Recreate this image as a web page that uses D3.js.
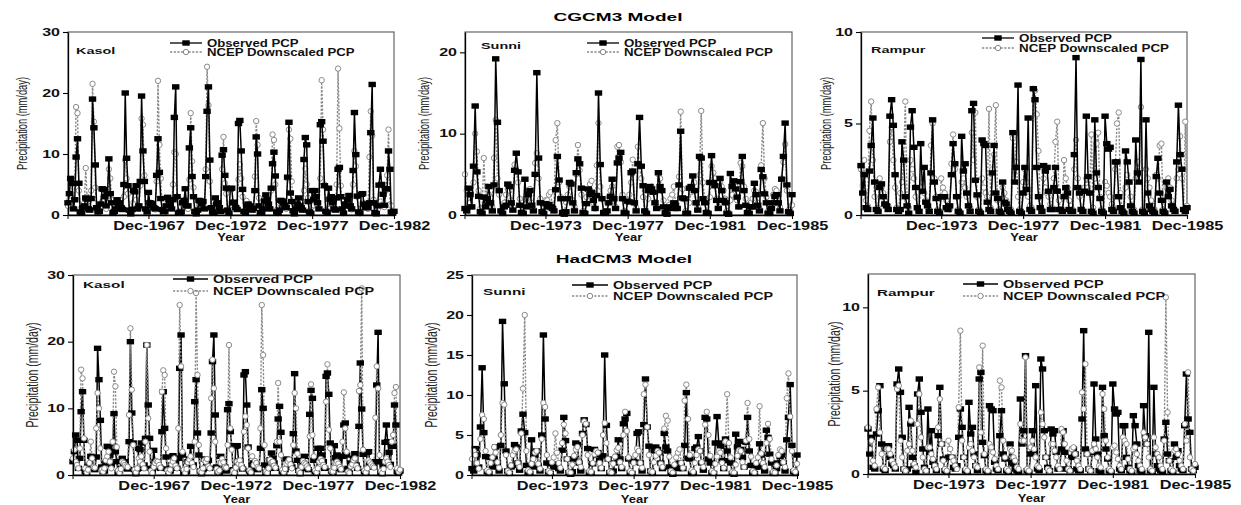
<!DOCTYPE html>
<html><head><meta charset="utf-8">
<script src="https://cdn.jsdelivr.net/npm/d3@7"></script>
<style>body{margin:0;background:#fff}svg{display:block}</style>
</head><body>
<svg id="c" width="1241" height="505"></svg>
<script>
// ---------------- DATA (monthly precipitation, mm/day; one row per year Jan..Dec) ----------------
const kasolStartYear = 1963;   // 1963-1982
const rampurSunniStartYear = 1970; // 1970-1985

const kasolObs = [
 [2.0,3.5,6.0,5.2,1.0,2.5,9.5,12.5,5.2,0.5,0.3,1.2],
 [1.5,2.8,2.6,1.0,0.8,2.7,19.0,14.3,8.2,1.2,0.5,0.6],
 [1.8,4.3,4.2,3.0,1.5,3.5,9.2,3.5,2.0,0.4,0.6,1.0],
 [2.5,1.8,2.0,1.2,0.9,5.0,20.0,9.3,4.8,0.8,0.2,0.9],
 [4.0,3.8,4.8,1.0,1.5,5.5,19.5,10.5,5.5,1.0,0.5,3.7],
 [2.0,1.9,1.5,1.2,1.0,6.5,12.5,7.0,2.7,0.9,0.5,0.6],
 [1.5,2.9,2.5,1.8,1.0,2.5,16.0,21.0,3.0,0.3,0.4,0.5],
 [2.0,2.4,4.3,1.5,1.5,11.0,14.3,6.3,3.0,0.6,0.2,0.8],
 [2.4,2.3,1.8,2.2,1.0,6.3,17.0,21.0,9.0,1.2,0.5,0.3],
 [2.8,1.8,2.0,1.2,0.6,9.8,10.7,6.5,4.4,0.8,0.3,4.3],
 [4.4,2.0,2.1,1.2,0.9,15.0,15.5,10.5,4.2,0.6,0.4,1.5],
 [1.8,1.5,1.2,0.8,1.1,4.0,12.8,10.0,1.5,0.4,0.3,1.0],
 [2.3,3.3,2.5,1.8,1.0,4.4,8.4,10.3,6.4,0.5,0.3,0.8],
 [2.4,2.3,2.0,1.6,1.2,6.2,15.2,3.6,2.2,0.7,0.2,1.0],
 [1.8,2.8,1.5,1.2,0.8,9.1,12.7,11.5,2.2,0.5,0.3,4.0],
 [2.5,4.0,3.0,2.0,1.0,14.8,15.3,12.1,4.8,0.6,0.4,4.4],
 [2.6,3.0,2.0,1.0,0.8,2.8,7.5,7.8,3.0,1.0,0.3,1.8],
 [1.5,2.5,3.2,1.5,1.0,7.3,16.8,9.9,3.1,0.5,0.3,3.4],
 [3.5,1.8,1.2,1.5,1.2,2.0,13.5,21.4,2.0,0.4,0.2,1.5],
 [4.9,7.5,5.0,3.4,1.6,4.3,4.3,10.5,7.5,0.5,0.3,0.6]
].flat();

const kasolCGCM3 = [
 [1.5,2.5,3.2,2.0,1.2,5.0,17.7,16.7,4.0,1.0,1.0,1.4],
 [2.0,7.7,3.0,1.5,1.0,4.0,21.5,15.3,4.5,0.8,0.5,0.9],
 [1.5,2.2,3.0,2.5,1.0,2.0,7.5,6.0,2.5,0.5,0.4,0.8],
 [1.8,2.0,1.5,1.0,1.2,3.0,9.0,6.0,3.5,0.6,0.3,1.0],
 [2.0,1.8,2.5,1.5,1.0,4.8,15.8,14.8,6.5,0.8,0.4,1.0],
 [1.5,2.0,1.8,1.0,0.9,5.5,22.0,11.5,6.0,0.8,0.3,0.7],
 [1.2,2.0,2.5,1.5,1.1,5.0,10.3,10.0,3.0,0.6,0.4,0.6],
 [1.6,1.8,2.4,1.2,1.0,5.8,16.7,8.8,4.5,0.5,0.3,0.9],
 [1.7,2.2,2.0,1.4,1.2,7.5,24.3,18.0,5.5,1.0,0.4,0.6],
 [1.8,1.5,2.0,1.0,0.8,7.5,12.8,5.2,3.5,0.7,0.3,1.2],
 [2.1,1.6,1.8,1.5,1.0,5.8,8.3,6.0,3.0,0.6,0.4,2.3],
 [1.5,1.8,1.4,1.0,1.0,6.3,15.4,11.5,2.8,0.5,0.4,0.8],
 [1.8,2.0,2.2,1.3,1.0,4.0,13.2,12.3,5.0,0.8,0.3,0.7],
 [1.7,2.1,1.9,1.5,1.0,6.0,14.0,12.5,5.5,0.5,0.4,1.2],
 [2.0,1.8,1.5,1.1,0.9,4.0,7.6,5.0,2.8,0.7,0.3,1.4],
 [1.6,2.3,2.2,1.5,1.1,6.0,22.1,14.0,5.0,0.8,0.4,1.0],
 [1.8,2.0,1.6,1.2,1.0,5.0,24.0,14.2,4.8,0.6,0.3,3.0],
 [1.5,1.9,2.4,1.1,0.9,5.0,10.5,8.0,3.0,0.5,0.3,1.1],
 [2.0,1.6,1.4,1.2,1.0,9.5,17.0,13.0,2.5,0.5,0.4,0.9],
 [1.9,2.2,1.7,1.4,1.3,4.0,6.5,14.0,1.7,1.5,0.6,0.5]
].flat();

const kasolHadCM3 = [
 [2.5,3.8,2.0,1.5,1.0,4.0,15.8,14.5,5.5,1.0,0.4,0.8],
 [1.8,5.0,2.5,1.2,1.1,7.0,12.3,10.0,4.0,0.8,0.5,1.0],
 [2.2,2.8,3.5,2.0,1.0,5.0,15.5,13.3,4.2,0.7,0.3,0.9],
 [2.0,1.8,1.5,1.3,1.2,9.0,22.0,12.8,4.5,0.8,0.4,1.0],
 [2.5,2.0,2.8,1.6,1.0,5.0,19.5,8.5,3.5,0.6,0.3,1.2],
 [1.8,2.1,2.0,1.5,1.1,12.5,15.7,15.0,4.0,0.7,0.4,0.8],
 [1.6,2.0,2.5,1.4,1.0,7.0,25.5,16.3,3.5,0.8,0.3,0.9],
 [1.9,2.3,2.8,1.8,1.2,5.0,27.3,15.0,4.5,0.6,0.4,1.0],
 [2.2,2.0,2.4,1.3,1.0,11.5,17.3,13.0,5.0,0.9,0.5,0.7],
 [1.8,2.4,1.9,1.2,1.1,4.5,19.5,7.0,3.8,0.6,0.3,1.1],
 [2.0,1.7,2.2,1.5,1.0,6.5,8.8,7.5,4.0,0.7,0.4,2.8],
 [1.5,2.1,1.8,1.2,1.0,7.0,25.5,18.0,4.5,0.5,0.3,1.0],
 [2.3,1.9,2.0,1.4,1.1,5.0,13.8,5.0,3.0,0.8,0.4,0.9],
 [1.7,2.0,2.3,1.6,1.0,4.5,12.3,10.0,3.2,0.6,0.3,1.2],
 [2.1,1.8,1.6,1.3,1.0,5.8,13.6,6.0,2.8,0.7,0.4,1.0],
 [2.0,2.4,2.1,1.5,1.2,11.0,16.6,6.8,4.0,0.6,0.5,1.1],
 [1.8,2.0,1.7,1.2,0.9,5.0,12.4,7.0,3.5,0.5,0.3,1.3],
 [1.6,2.2,2.5,1.4,1.0,12.6,13.5,28.0,3.8,0.7,0.4,1.0],
 [2.2,1.9,1.6,1.3,1.1,8.6,16.3,13.0,3.0,0.6,0.3,0.9],
 [2.0,2.5,2.0,1.5,1.2,5.0,6.0,12.3,13.2,1.0,0.5,0.8]
].flat();

const sunniObs = [
 [0.8,0.5,3.3,2.5,1.0,6.0,13.4,5.3,2.3,0.4,0.2,2.2],
 [1.0,2.0,3.5,1.5,0.5,3.7,19.2,11.4,3.0,0.5,0.2,1.0],
 [1.2,3.8,3.5,1.5,0.6,5.5,7.6,5.3,1.2,0.3,0.2,4.4],
 [1.0,2.5,3.0,1.2,0.5,5.0,17.5,7.0,1.5,0.4,0.2,1.4],
 [1.0,1.3,1.0,0.8,0.5,3.1,7.2,4.3,2.0,0.3,0.1,0.4],
 [2.0,4.0,3.8,1.5,0.5,5.2,6.9,6.3,3.3,0.3,0.2,1.4],
 [3.2,2.5,2.8,1.8,0.8,2.4,15.0,6.2,2.0,0.3,0.2,0.5],
 [1.5,2.3,4.4,2.0,0.8,6.4,7.0,7.7,2.0,0.3,0.2,1.7],
 [1.6,5.2,5.4,1.5,0.5,6.3,12.0,6.0,3.6,0.5,0.2,3.0],
 [3.5,3.2,2.8,1.5,0.8,5.2,3.5,3.0,1.0,0.3,0.1,0.9],
 [1.0,0.8,1.5,1.2,0.8,3.7,10.3,2.1,2.0,0.2,0.2,3.3],
 [3.5,4.8,3.0,1.5,0.6,7.2,7.0,2.0,1.5,0.3,0.2,4.0],
 [7.3,4.0,3.6,1.8,0.8,4.5,3.0,1.8,1.5,0.2,0.1,5.1],
 [3.5,4.2,3.2,2.2,1.0,4.1,7.2,3.0,1.2,0.3,0.2,1.0],
 [1.0,3.9,2.5,1.2,0.5,5.6,4.7,2.6,1.5,0.2,0.2,0.8],
 [1.5,2.3,2.5,1.5,0.5,4.4,7.2,11.3,3.7,0.4,0.2,2.5]
].flat();

const sunniCGCM3 = [
 [5.0,3.0,2.8,1.5,1.0,4.0,10.0,7.8,3.0,0.8,0.5,7.0],
 [2.0,3.5,2.5,1.5,1.0,7.0,11.7,4.5,2.5,0.5,0.4,1.5],
 [2.5,3.2,3.0,1.8,1.0,6.2,5.5,4.0,2.0,0.4,0.3,2.0],
 [2.0,2.8,3.2,1.5,0.8,6.4,7.6,4.5,2.0,0.5,0.3,1.8],
 [1.8,2.5,2.8,1.2,0.9,9.2,11.3,4.0,2.2,0.4,0.3,1.6],
 [2.5,3.5,4.0,1.8,1.0,5.0,8.6,5.5,2.5,0.5,0.3,2.2],
 [3.0,3.8,4.2,1.5,0.8,6.1,11.3,3.5,2.0,0.4,0.3,1.5],
 [2.2,3.0,3.5,1.7,1.0,8.4,8.6,6.5,2.5,0.5,0.4,1.8],
 [2.5,4.0,6.8,1.5,0.9,8.4,6.0,4.5,2.2,0.5,0.3,2.0],
 [3.0,3.5,2.8,1.6,1.0,5.0,4.5,3.0,1.8,0.4,0.3,1.2],
 [2.0,2.5,3.5,1.4,0.8,4.7,12.7,3.2,2.0,0.5,0.3,1.5],
 [2.8,3.2,4.0,1.5,1.0,4.9,12.8,4.0,2.0,0.4,0.3,2.2],
 [6.0,5.2,4.5,2.0,1.0,4.0,3.5,3.0,2.0,0.5,0.3,1.8],
 [2.5,3.8,3.5,1.8,1.0,6.4,6.0,3.5,2.0,0.4,0.3,1.5],
 [2.0,3.0,2.8,1.5,0.8,6.1,11.3,4.5,2.2,0.5,0.3,1.4],
 [2.5,3.2,3.0,1.7,1.0,4.5,6.5,8.7,3.0,0.6,0.3,1.2]
].flat();

const sunniHadCM3 = [
 [2.0,3.0,2.5,1.5,0.8,4.5,7.5,7.0,3.0,0.6,0.4,1.5],
 [2.2,3.5,2.8,1.6,0.9,5.0,9.0,8.8,2.5,0.5,0.3,1.2],
 [2.5,3.0,3.2,1.5,1.0,5.2,10.8,20.0,3.0,0.6,0.4,1.4],
 [2.0,2.8,3.0,1.4,0.8,4.5,9.0,8.5,2.5,0.5,0.3,1.6],
 [2.2,5.2,2.8,1.5,0.9,4.0,6.3,5.2,2.0,0.4,0.3,1.3],
 [2.4,3.2,3.5,1.6,1.0,5.0,6.7,6.4,2.5,0.5,0.4,1.5],
 [2.6,3.0,2.8,1.5,0.9,5.0,6.5,4.0,2.0,0.4,0.3,1.4],
 [2.3,3.1,3.4,1.6,1.0,5.0,7.9,5.5,2.2,0.5,0.3,1.5],
 [2.5,3.3,3.0,1.5,0.9,10.1,11.3,6.0,2.5,0.5,0.4,1.6],
 [2.4,3.0,2.8,1.4,1.0,5.8,7.4,6.8,2.3,0.5,0.3,1.3],
 [2.2,2.8,3.2,1.5,0.9,9.3,11.3,7.0,2.5,0.6,0.4,1.5],
 [2.5,3.2,3.0,1.6,1.0,6.3,7.9,5.0,2.4,0.5,0.3,1.4],
 [2.3,3.0,2.8,1.5,0.9,4.2,10.1,4.0,2.2,0.4,0.3,1.3],
 [2.4,3.1,3.0,1.6,1.0,4.3,9.0,4.5,2.3,0.5,0.3,1.5],
 [2.2,8.6,2.7,1.5,1.0,4.0,6.4,4.5,2.0,0.4,0.3,1.2],
 [2.5,3.2,3.0,1.6,1.0,9.6,12.7,7.3,3.0,0.6,0.4,1.4]
].flat();

const rampurObs = [
 [2.7,1.2,2.2,0.4,0.3,2.4,3.8,5.3,1.8,0.3,0.2,1.5],
 [1.7,1.0,0.6,0.5,0.3,5.4,6.3,4.9,2.2,0.3,0.2,0.3],
 [4.0,3.0,1.0,0.5,0.1,4.8,5.7,3.7,1.5,0.4,0.2,3.9],
 [1.3,2.6,0.7,0.5,0.2,2.3,5.2,1.8,0.9,0.2,0.1,1.0],
 [1.0,1.0,0.4,0.3,0.5,2.2,3.9,2.8,1.0,0.2,0.1,4.3],
 [2.4,2.8,1.2,0.5,0.2,5.7,6.1,1.9,1.1,0.2,0.1,4.1],
 [3.9,3.8,0.7,0.3,0.2,2.3,3.8,1.2,0.9,0.2,0.1,1.8],
 [0.7,0.6,0.3,0.2,0.1,4.5,1.8,2.6,7.1,0.2,0.1,1.2],
 [2.6,1.4,5.3,0.3,0.2,6.9,6.3,2.6,1.0,0.4,0.2,2.7],
 [2.4,2.6,1.3,0.3,0.3,1.5,2.6,1.3,0.3,0.3,0.2,1.0],
 [1.5,1.2,0.3,0.2,0.2,3.3,8.6,1.5,1.2,0.3,0.2,1.3],
 [5.4,2.1,1.2,0.2,0.1,5.2,2.3,1.5,0.9,0.2,0.1,5.4],
 [3.9,3.6,3.7,0.3,0.2,2.9,2.9,1.0,0.4,0.2,0.1,3.5],
 [2.9,1.8,0.5,0.2,0.1,4.1,2.3,1.8,8.5,0.2,0.1,5.2],
 [1.2,0.5,0.3,0.2,0.1,2.1,3.1,1.2,0.8,0.2,0.1,1.8],
 [1.0,1.4,0.5,0.3,0.2,2.9,6.0,3.3,2.5,0.3,0.2,0.4]
].flat();

const rampurCGCM3 = [
 [2.5,1.6,3.0,0.8,0.5,4.6,6.2,3.0,1.0,0.3,0.4,2.0],
 [1.5,1.2,0.8,0.6,0.5,4.0,4.8,3.0,1.5,0.4,0.3,1.2],
 [1.8,2.9,6.2,0.8,0.4,3.0,2.5,2.0,1.0,0.3,0.2,1.5],
 [1.8,1.2,0.8,0.5,0.3,3.8,5.0,2.0,1.0,0.3,0.2,2.0],
 [1.5,1.2,0.8,0.5,0.3,2.8,4.4,2.5,1.0,0.3,0.2,1.8],
 [2.0,1.5,1.0,0.5,0.4,4.5,3.0,5.6,1.0,0.3,0.2,2.0],
 [1.5,1.2,1.0,5.8,0.4,2.5,3.3,6.0,0.8,0.3,0.2,1.5],
 [1.2,0.8,0.5,0.4,0.3,4.2,4.4,2.9,1.0,0.3,0.2,1.8],
 [2.5,1.8,1.0,0.5,0.4,6.9,6.8,5.5,3.5,0.4,0.3,2.0],
 [1.5,1.2,1.0,0.6,0.4,2.0,4.0,5.1,0.8,0.3,0.2,3.0],
 [2.0,1.5,0.8,0.5,0.3,2.5,4.1,2.0,1.0,0.3,0.2,1.5],
 [2.0,1.5,1.2,4.4,0.4,2.0,3.9,4.5,1.0,0.3,0.2,1.8],
 [1.6,1.2,1.0,0.6,0.4,2.5,5.0,5.6,1.2,0.3,0.2,1.5],
 [2.2,1.8,1.0,0.5,0.3,2.0,2.9,2.0,5.9,0.3,0.2,2.5],
 [2.0,1.5,0.8,0.5,0.3,2.2,2.0,3.8,3.9,0.3,0.2,1.5],
 [2.0,1.5,0.8,0.5,0.3,2.0,2.5,4.3,2.0,0.3,5.1,0.5]
].flat();

const rampurHadCM3 = [
 [2.8,1.5,2.0,0.8,0.5,3.9,5.2,2.5,1.2,0.4,0.3,1.5],
 [1.5,1.2,0.8,0.6,0.4,5.1,5.3,2.0,1.0,0.3,0.2,1.4],
 [1.8,3.2,1.4,0.6,0.4,3.0,4.8,2.2,1.0,0.3,0.2,1.6],
 [1.6,1.2,0.9,0.5,0.3,2.8,4.5,1.8,0.8,0.3,0.2,2.0],
 [1.5,1.0,0.8,0.5,0.3,4.0,8.6,2.0,1.0,0.3,0.2,1.6],
 [1.8,1.4,1.0,0.5,0.4,6.4,2.5,7.7,1.2,0.3,0.2,1.8],
 [1.6,1.3,0.9,0.5,0.3,5.6,5.2,2.0,1.0,0.3,0.2,1.5],
 [1.4,1.0,0.8,0.4,0.3,3.0,2.0,2.0,7.0,0.3,0.2,1.6],
 [2.0,1.5,1.0,0.5,0.4,3.7,3.0,2.2,1.0,0.3,0.2,1.8],
 [1.8,1.4,1.0,0.5,0.3,2.7,2.5,1.8,0.8,0.3,0.2,1.5],
 [1.6,1.2,0.8,0.5,0.3,4.9,3.9,6.6,1.2,0.3,0.2,1.4],
 [1.8,1.5,1.0,0.5,0.4,4.8,3.9,2.0,1.0,0.3,0.2,1.6],
 [1.7,1.3,0.9,0.5,0.3,2.2,2.0,1.8,0.9,0.3,0.2,1.5],
 [1.6,1.2,0.8,0.5,0.3,2.5,2.2,1.8,1.0,0.3,0.2,2.2],
 [1.6,1.2,1.0,0.5,0.3,2.0,10.6,3.7,0.8,0.3,0.2,1.4],
 [1.5,1.2,0.8,0.5,0.3,3.0,2.0,6.1,1.0,0.3,0.2,0.6]
].flat();

const kasolXTicks = ["Dec-1967","Dec-1972","Dec-1977","Dec-1982"];
const sunniRampurXTicks = ["Dec-1973","Dec-1977","Dec-1981","Dec-1985"];
const kasolYTicks = [0,10,20,30];
const sunniCgcmYTicks = [0,10,20];
const rampurCgcmYTicks = [0,5,10];
const sunniHadYTicks = [0,5,10,15,20,25];
const rampurHadYTicks = [0,5,10];
const modelTitles = ["CGCM3 Model","HadCM3 Model"];
const legendLabels = ["Observed PCP","NCEP Downscaled PCP"];

// ---------------- DRAWING ----------------
const FONT = "'Liberation Sans', Arial, Helvetica, sans-serif";
const svg = d3.select("#c");
svg.append("rect").attr("width",1241).attr("height",505).attr("fill","#fff");
const parseTick = d3.timeParse("%b-%Y");
const fmtTick = d3.timeFormat("%b-%Y");
const GRAY = "#8a8a8a";

function stext(g, x, y, str, size, weight, sx, anchor, fill) {
  return g.append("text")
    .attr("transform", `translate(${x},${y}) scale(${sx},1)`)
    .attr("text-anchor", anchor || "start")
    .attr("font-family", FONT).attr("font-size", size)
    .attr("font-weight", weight || "normal").attr("fill", fill || "#111").text(str);
}

function monthDates(startYear, n) {
  return d3.range(n).map(i => new Date(startYear + Math.floor(i / 12), i % 12, 1));
}

const panels = [
  {station:"Kasol", y0:kasolStartYear, obs:kasolObs, ncep:kasolCGCM3, xt:kasolXTicks, yMax:30, yt:kasolYTicks,
   L:68, R:394, T:32, B:215, leg:[170,207,43,52], legSx:1.32, st:[76,54], stSx:1.6, ylx:22, ylSize:9.3, ncepTop:false},
  {station:"Sunni", y0:rampurSunniStartYear, obs:sunniObs, ncep:sunniCGCM3, xt:sunniRampurXTicks, yMax:22.5, yt:sunniCgcmYTicks,
   L:465, R:792, T:32, B:215, leg:[587,624,43,52], legSx:1.33, st:[481,49], stSx:1.6, ylx:424, ylSize:9.3, ncepTop:false},
  {station:"Rampur", y0:rampurSunniStartYear, obs:rampurObs, ncep:rampurCGCM3, xt:sunniRampurXTicks, yMax:10, yt:rampurCgcmYTicks,
   L:861, R:1187, T:32, B:215, leg:[982,1019,38,48], legSx:1.34, st:[871,53], stSx:1.6, ylx:826, ylSize:9.3, ncepTop:false},
  {station:"Kasol", y0:kasolStartYear, obs:kasolObs, ncep:kasolHadCM3, xt:kasolXTicks, yMax:30, yt:kasolYTicks,
   L:73, R:400, T:275, B:475, leg:[173,213,279,291], legSx:1.44, st:[83,288], stSx:1.7, ylx:33, ylSize:10.5, ncepTop:true},
  {station:"Sunni", y0:rampurSunniStartYear, obs:sunniObs, ncep:sunniHadCM3, xt:sunniRampurXTicks, yMax:25, yt:sunniHadYTicks,
   L:472, R:797, T:275, B:475, leg:[572,613,285,296], legSx:1.43, st:[483,295], stSx:1.7, ylx:432, ylSize:10.5, ncepTop:true},
  {station:"Rampur", y0:rampurSunniStartYear, obs:rampurObs, ncep:rampurHadCM3, xt:sunniRampurXTicks, yMax:12, yt:rampurHadYTicks,
   L:868, R:1195, T:274, B:474, leg:[963,1003,284,296], legSx:1.45, st:[877,296], stSx:1.7, ylx:835, ylSize:10.5, ncepTop:true}
];

// Model titles
stext(svg, 618, 21, modelTitles[0], 11, "bold", 1.73, "middle", "#000");
stext(svg, 624, 263, modelTitles[1], 11, "bold", 1.73, "middle", "#000");

function drawSeries(g, dates, vals, x, y, kind) {
  const pts = vals.map((v, i) => [x(dates[i]), y(v)]);
  const line = d3.line();
  if (kind === "obs") {
    g.append("path").attr("d", line(pts)).attr("fill","none").attr("stroke","#000").attr("stroke-width",1.5);
  } else {
    g.append("path").attr("d", line(pts)).attr("fill","none").attr("stroke",GRAY)
      .attr("stroke-width",1.4).attr("stroke-dasharray","2.2,1.5");
  }
  return pts;
}
function drawMarkers(g, pts, kind) {
  if (kind === "obs") {
    g.selectAll(null).data(pts).enter().append("rect")
      .attr("x", d => d[0]-3.7).attr("y", d => d[1]-2.7).attr("width",7.4).attr("height",5.4).attr("fill","#000");
  } else {
    g.selectAll(null).data(pts).enter().append("circle")
      .attr("cx", d => d[0]).attr("cy", d => d[1]).attr("r",2.7)
      .attr("fill","#fff").attr("stroke",GRAY).attr("stroke-width",1);
  }
}

panels.forEach(p => {
  const n = p.obs.length;
  const dates = monthDates(p.y0, n);
  const x = d3.scaleTime().domain([dates[0], dates[n-1]]).range([p.L, p.R]);
  const y = d3.scaleLinear().domain([0, p.yMax]).range([p.B, p.T]);
  const g = svg.append("g");

  // frame
  g.append("rect").attr("x",p.L).attr("y",p.T).attr("width",p.R-p.L).attr("height",p.B-p.T)
    .attr("fill","none").attr("stroke","#666").attr("stroke-width",1.2);

  // data
  const clipId = "clip" + p.L + "_" + p.T;
  svg.append("clipPath").attr("id", clipId).append("rect")
    .attr("x",p.L-4).attr("y",p.T-1).attr("width",p.R-p.L+8).attr("height",p.B-p.T+4);
  const dg = g.append("g").attr("clip-path", `url(#${clipId})`);
  if (p.ncepTop) {
    const po = drawSeries(dg, dates, p.obs, x, y, "obs");
    const pn = drawSeries(dg, dates, p.ncep, x, y, "ncep");
    drawMarkers(dg, po, "obs");
    drawMarkers(dg, pn, "ncep");
  } else {
    const pn = drawSeries(dg, dates, p.ncep, x, y, "ncep");
    drawMarkers(dg, pn, "ncep");
    const po = drawSeries(dg, dates, p.obs, x, y, "obs");
    drawMarkers(dg, po, "obs");
  }

  // axes
  const ya = g.append("g").attr("transform",`translate(${p.L},0)`)
    .call(d3.axisLeft(y).tickValues(p.yt).tickSize(5).tickSizeOuter(0).tickFormat(d3.format("d")));
  ya.select(".domain").attr("stroke","#000").attr("stroke-width",1.3);
  ya.selectAll(".tick line").attr("stroke","#000").attr("stroke-width",1.1);
  ya.selectAll(".tick text").attr("font-family",FONT).attr("font-size",10).attr("font-weight","bold")
    .attr("fill","#111").attr("x", -8/1.6).attr("transform","scale(1.6,1)");

  const xa = g.append("g").attr("transform",`translate(0,${p.B})`)
    .call(d3.axisBottom(x).tickValues(p.xt.map(parseTick)).tickSize(4).tickSizeOuter(0).tickFormat(fmtTick));
  xa.select(".domain").attr("stroke","#000").attr("stroke-width",1.3);
  xa.selectAll(".tick line").attr("stroke","#000").attr("stroke-width",1.1);
  xa.selectAll(".tick text").attr("font-family",FONT).attr("font-size",12).attr("font-weight","bold")
    .attr("fill","#111").attr("y",6).attr("transform","scale(1.36,1)");
  g.append("line").attr("x1",p.L).attr("x2",p.L).attr("y1",p.B).attr("y2",p.B+4).attr("stroke","#000");

  // axis titles
  stext(g, (p.L+p.R)/2, p.B + (p.T < 100 ? 26 : 28), "Year", 11, "bold", 1.18, "middle");
  g.append("text")
    .attr("transform", `translate(${p.ylx+4.5},${(p.T+p.B)/2}) rotate(-90) scale(1,1.55)`)
    .attr("text-anchor","middle").attr("font-family",FONT).attr("font-size",p.ylSize)
    .attr("fill","#222").text("Precipitation (mm/day)");

  // station label
  stext(g, p.st[0], p.st[1], p.station, 9, "bold", p.stSx, "start");

  // legend
  const [sx0, tx, r1, r2] = p.leg;
  const sx1 = tx - 5, sxm = (sx0 + sx1) / 2;
  g.append("line").attr("x1",sx0).attr("x2",sx1).attr("y1",r1).attr("y2",r1).attr("stroke","#000").attr("stroke-width",1.3);
  g.append("rect").attr("x",sxm-3.7).attr("y",r1-2.7).attr("width",7.4).attr("height",5.4).attr("fill","#000");
  g.append("line").attr("x1",sx0).attr("x2",sx1).attr("y1",r2).attr("y2",r2).attr("stroke",GRAY)
    .attr("stroke-width",1.3).attr("stroke-dasharray","2.2,1.5");
  g.append("circle").attr("cx",sxm).attr("cy",r2).attr("r",2.7).attr("fill","#fff").attr("stroke",GRAY).attr("stroke-width",1);
  stext(g, tx, r1+3.6, legendLabels[0], 10, "bold", p.legSx, "start");
  stext(g, tx, r2+3.6, legendLabels[1], 10, "bold", p.legSx, "start");
});
</script>
</body></html>
